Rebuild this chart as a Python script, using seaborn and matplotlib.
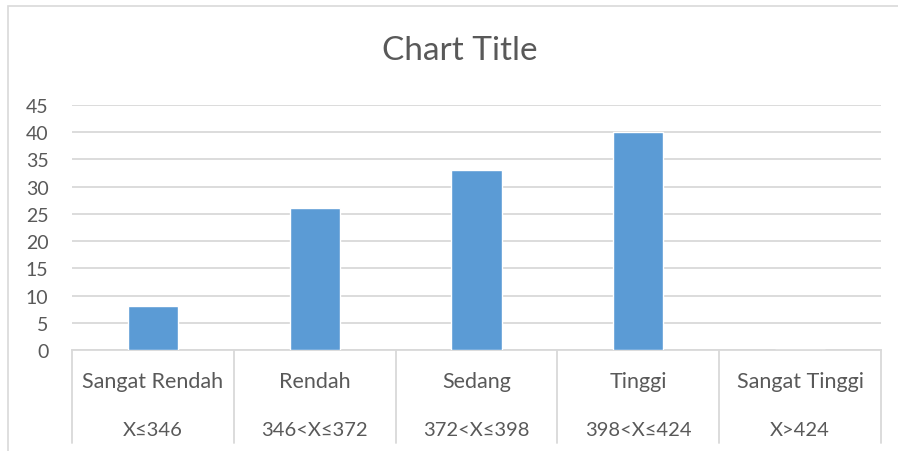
import matplotlib
matplotlib.use("Agg")
import matplotlib.pyplot as plt
import matplotlib.transforms as mtransforms
from matplotlib.patches import Rectangle
import seaborn as sns
import pandas as pd

categories = ["Sangat Rendah", "Rendah", "Sedang", "Tinggi", "Sangat Tinggi"]
ranges = ["X≤346", "346<X≤372", "372<X≤398", "398<X≤424", "X>424"]
values = [8, 26, 33, 40, 0]
yticks = [0, 5, 10, 15, 20, 25, 30, 35, 40, 45]

sns.set_theme(style="white")
plt.rcParams["font.family"] = ["Lato", "DejaVu Sans"]

TEXT = "#595959"
GRID = "#D9D9D9"
BAR = "#5B9BD5"

W, H = 898, 452
fig = plt.figure(figsize=(W / 100, H / 100), dpi=100)
fig.patch.set_facecolor("white")

# outer chart border (partially cropped)
fig.add_artist(Rectangle((8 / W, -0.1), 1.2, (H - 7) / H + 0.1,
                         transform=fig.transFigure, fill=False,
                         edgecolor=GRID, linewidth=1.2))

left, right = 72 / W, 881 / W
bottom, top = (H - 351) / H, (H - 106) / H
ax = fig.add_axes([left, bottom, right - left, top - bottom])

df = pd.DataFrame({"cat": categories, "val": values})
sns.barplot(data=df, x="cat", y="val", color=BAR, width=0.31,
            saturation=1, ax=ax, zorder=3)

ax.set_xlim(-0.5, len(categories) - 0.5)
ax.set_ylim(0, 45)
ax.set_yticks(yticks)
ax.set_yticklabels([str(v) for v in yticks], color=TEXT, fontsize=14)
ax.tick_params(axis="y", length=0, pad=17)
ax.set_xticks([])
ax.set_xlabel("")
ax.set_ylabel("")
for s in ["top", "right", "left"]:
    ax.spines[s].set_visible(False)
ax.spines["bottom"].set_color(GRID)
ax.spines["bottom"].set_linewidth(1.3)
ax.grid(axis="y", color=GRID, linewidth=1.3, zorder=0)
ax.set_axisbelow(True)

# two-level category axis
trans = mtransforms.blended_transform_factory(ax.transData, ax.transAxes)
ax_h_px = 351 - 106
sep_end = -(444 - 351) / ax_h_px
for b in range(len(categories) + 1):
    ax.plot([b - 0.5, b - 0.5], [0, sep_end], transform=trans,
            color=GRID, linewidth=1.3, clip_on=False)
for i, (c, r) in enumerate(zip(categories, ranges)):
    ax.text(i, -(382 - 351) / ax_h_px, c, transform=trans, ha="center",
            va="center", fontsize=15.5, color=TEXT)
    ax.text(i, -(431 - 351) / ax_h_px, r, transform=trans, ha="center",
            va="center", fontsize=14.5, color=TEXT)

fig.text(460 / W, (H - 51) / H, "Chart Title",
         ha="center", va="center", fontsize=24, color=TEXT)

fig.savefig("out.png", dpi=100)
